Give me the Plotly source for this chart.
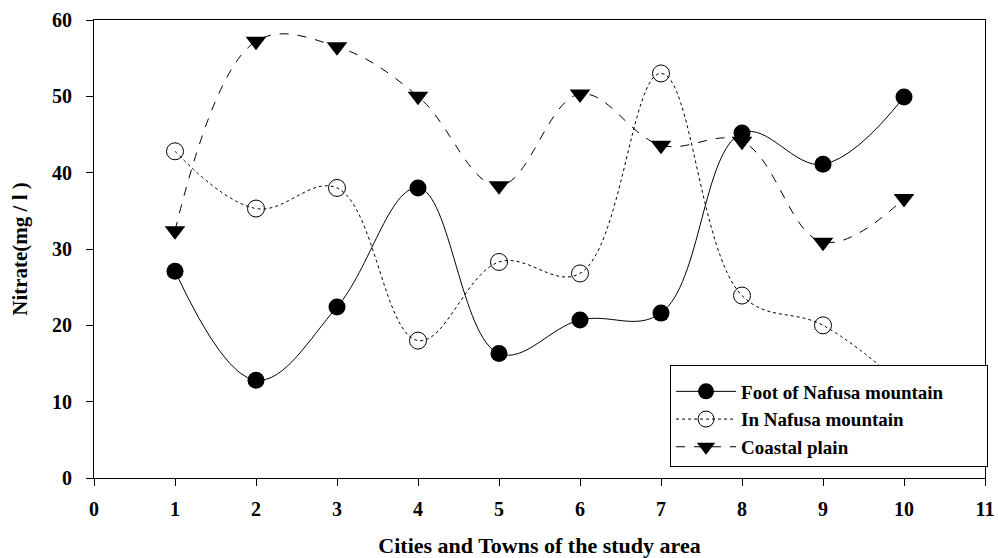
import plotly.graph_objects as go

sites = [1, 2, 3, 4, 5, 6, 7, 8, 9, 10]
foot_nafusa = [27.1, 12.8, 22.4, 38.0, 16.3, 20.7, 21.6, 45.2, 41.1, 49.9]
in_nafusa = [42.8, 35.3, 38.0, 18.0, 28.3, 26.8, 53.0, 23.9, 20.0, 12.0]
coastal = [32.4, 57.2, 56.5, 50.0, 38.3, 50.3, 43.6, 44.1, 30.9, 36.6]

series_names = ["Foot of Nafusa mountain", "In Nafusa mountain", "Coastal plain"]

x_ticks = list(range(0, 12))
y_ticks = [0, 10, 20, 30, 40, 50, 60]

FONT = "Liberation Serif"
PAD = "\u00a0" * 8  # widens the legend box to match the reference

fig = go.Figure()
fig.add_trace(go.Scatter(
    x=sites, y=foot_nafusa, name=series_names[0] + PAD,
    mode="lines+markers",
    line=dict(color="black", width=1, shape="spline", smoothing=1.1),
    marker=dict(symbol="circle", size=17, color="black"),
))
fig.add_trace(go.Scatter(
    x=sites, y=in_nafusa, name=series_names[1],
    mode="lines+markers",
    line=dict(color="black", width=1, dash="dot", shape="spline", smoothing=1.1),
    marker=dict(symbol="circle-open", size=17, color="black", line=dict(width=1)),
))
fig.add_trace(go.Scatter(
    x=sites, y=coastal, name=series_names[2],
    mode="lines+markers",
    line=dict(color="black", width=1, dash="dash", shape="spline", smoothing=1.1),
    marker=dict(symbol="triangle-down", size=18, color="black"),
))

fig.update_layout(
    width=998, height=558,
    margin=dict(l=94, r=10, t=20, b=80),
    paper_bgcolor="white", plot_bgcolor="white",
    font=dict(family=FONT, color="black", size=18),
    showlegend=True,
    legend=dict(
        x=0.6465, y=0.024, xanchor="left", yanchor="bottom",
        bgcolor="white", bordercolor="black", borderwidth=1,
        font=dict(family=FONT, size=19, color="black", weight="bold"),
        itemwidth=60, tracegroupgap=0,
        title=dict(text=" ", font=dict(size=5)),
    ),
    xaxis=dict(
        range=[0, 11], tickmode="array", tickvals=x_ticks,
        ticks="outside", ticklen=7, tickwidth=1, tickcolor="black",
        ticklabelstandoff=6,
        showline=True, linecolor="black", linewidth=1, mirror=True,
        showgrid=False, zeroline=False, automargin=False,
        tickfont=dict(family=FONT, size=20, color="black", weight="bold"),
        title=dict(text="Cities and Towns of the study area", standoff=24,
                   font=dict(family=FONT, size=22, color="black", weight="bold")),
    ),
    yaxis=dict(
        range=[0, 60], tickmode="array", tickvals=y_ticks,
        ticks="outside", ticklen=7, tickwidth=1, tickcolor="black",
        ticklabelstandoff=10,
        showline=True, linecolor="black", linewidth=1, mirror=True,
        showgrid=False, zeroline=False, automargin=False,
        tickfont=dict(family=FONT, size=20, color="black", weight="bold"),
        title=dict(text="Nitrate(mg / l )", standoff=18,
                   font=dict(family=FONT, size=21, color="black", weight="bold")),
    ),
)

fig.write_html("out.html",
               config={"displayModeBar": False},
               post_script="document.body.style.margin='0';document.body.style.overflow='hidden';")
